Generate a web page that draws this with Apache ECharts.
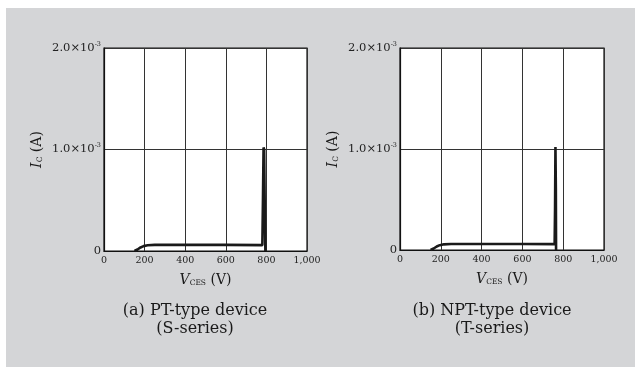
<!DOCTYPE html>
<html>
<head>
<meta charset="utf-8">
<script src="https://cdn.jsdelivr.net/npm/echarts@6/dist/echarts.min.js"></script>
<style>
  html, body { margin: 0; padding: 0; background: #fff; }
  #chart { width: 635px; height: 367px; }
</style>
</head>
<body>
<div id="chart"></div>
<script>
    // 数据 (I_C in units of 1e-3 A)
    var xTicks = [0, 200, 400, 600, 800, 1000];
    var yTicks = [0, 1, 2];
    var ptVce = [150, 165, 180, 195, 215, 250, 400, 600, 780, 783, 786, 789, 792, 795];
    var ptIc  = [0, 0.015, 0.035, 0.048, 0.056, 0.06, 0.06, 0.06, 0.058, 0.5, 1.02, 1.0, 0.4, 0.0];
    var nptVce = [150, 165, 180, 195, 215, 250, 400, 600, 758, 760, 762, 764, 765];
    var nptIc  = [0, 0.015, 0.035, 0.048, 0.056, 0.06, 0.06, 0.06, 0.058, 0.4, 1.02, 0.6, 0.0];
    var captions = [['(a) PT-type device', '(S-series)'], ['(b) NPT-type device', '(T-series)']];

    var serif = '"DejaVu Serif", "Liberation Serif", serif';
    var chart = echarts.init(document.getElementById('chart'));

    function pairs(xs, ys) {
        var out = [];
        for (var i = 0; i < xs.length; i++) out.push([xs[i], ys[i]]);
        return out;
    }

    function makeX(idx) {
        return {
            type: 'value', gridIndex: idx, min: 0, max: 1000, interval: 200,
            name: '{v|V}{s|CES}{n| (V)}',
            nameLocation: 'middle', nameGap: 22,
            nameTextStyle: {
                rich: {
                    v: { fontFamily: serif, fontStyle: 'italic', fontSize: 14, color: '#1a1a1a' },
                    s: { fontFamily: serif, fontSize: 7.5, color: '#1a1a1a', padding: [6, 0, 0, 0] },
                    n: { fontFamily: serif, fontSize: 14, color: '#1a1a1a' }
                }
            },
            axisLine: { show: true, onZero: false, lineStyle: { color: '#111', width: 1.2 } },
            axisTick: { show: false },
            axisLabel: {
                fontFamily: serif, fontSize: 9.5, color: '#222', margin: 5,
                formatter: function(val) { return val == 1000 ? '1,000' : String(val); }
            },
            splitLine: { show: true, lineStyle: { color: '#333', width: 1 } }
        };
    }

    function makeY(idx) {
        return {
            type: 'value', gridIndex: idx, min: 0, max: 2, interval: 1,
            name: '{v|I}{s|C}{n| (A)}',
            nameLocation: 'middle', nameGap: 60, nameRotate: 90,
            nameTextStyle: {
                rich: {
                    v: { fontFamily: serif, fontStyle: 'italic', fontSize: 14, color: '#1a1a1a' },
                    s: { fontFamily: serif, fontSize: 7.5, color: '#1a1a1a', padding: [6, 0, 0, 0] },
                    n: { fontFamily: serif, fontSize: 14, color: '#1a1a1a' }
                }
            },
            axisLine: { show: true, onZero: false, lineStyle: { color: '#111', width: 1.2 } },
            axisTick: { show: false },
            axisLabel: {
                margin: 3,
                formatter: function(val) {
                    if (val == 0) return '{b|0}';
                    return '{b|' + val.toFixed(1) + '×10}{p|-3}';
                },
                rich: {
                    b: { fontFamily: serif, fontSize: 11.5, color: '#222' },
                    p: { fontFamily: serif, fontSize: 6.5, color: '#222', padding: [0, 0, 8, 0] }
                }
            },
            splitLine: { show: true, lineStyle: { color: '#333', width: 1 } }
        };
    }

    var option = {
        animation: false,
        backgroundColor: '#fff',
        graphic: [
            { type: 'rect', z: -10, shape: { x: 6, y: 8, width: 629, height: 359 }, style: { fill: '#d4d5d7' } },
            { type: 'text', z: 10, style: { x: 195, y: 302, text: captions[0].join('\n'), align: 'center', font: '16px ' + serif, fill: '#1a1a1a', lineHeight: 18 } },
            { type: 'text', z: 10, style: { x: 492, y: 302, text: captions[1].join('\n'), align: 'center', font: '16px ' + serif, fill: '#1a1a1a', lineHeight: 18 } }
        ],
        grid: [
            { left: 104, top: 48, width: 203, height: 203, show: true, borderColor: '#111', borderWidth: 1.2, backgroundColor: '#fff' },
            { left: 400, top: 48, width: 204, height: 202, show: true, borderColor: '#111', borderWidth: 1.2, backgroundColor: '#fff' }
        ],
        xAxis: [makeX(0), makeX(1)],
        yAxis: [makeY(0), makeY(1)],
        series: [{
            type: 'line', xAxisIndex: 0, yAxisIndex: 0, showSymbol: false, smooth: false,
            lineStyle: { color: '#1a1a1a', width: 2.6 },
            data: pairs(ptVce, ptIc)
        }, {
            type: 'line', xAxisIndex: 1, yAxisIndex: 1, showSymbol: false, smooth: false,
            lineStyle: { color: '#1a1a1a', width: 2.6 },
            data: pairs(nptVce, nptIc)
        }]
    };
    chart.setOption(option);
</script>
</body>
</html>
